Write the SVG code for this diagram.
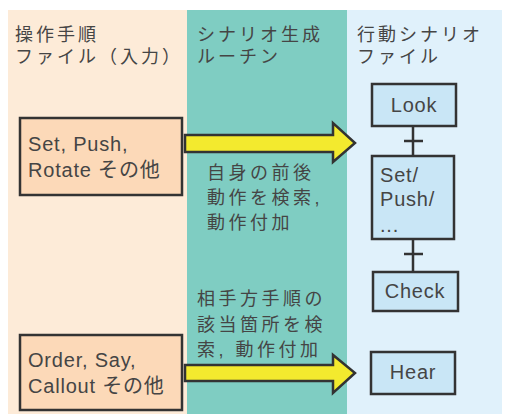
<svg xmlns="http://www.w3.org/2000/svg" width="508" height="414" viewBox="0 0 508 414">
<style>
text{font-family:"Liberation Sans","Noto Sans CJK JP",sans-serif;fill:#454545}
.h{font-size:18px;letter-spacing:3px}
.m{font-size:18px;letter-spacing:3.5px}
.b{font-size:20px;letter-spacing:0.8px}
.lbox{fill:#fcd9b8;stroke:#333;stroke-width:2.5}
.rbox{fill:#c9e6f6;stroke:#333;stroke-width:2.5}
.arrow{fill:#f3ea2e;stroke:#333;stroke-width:2.5;stroke-linejoin:miter}
.link{stroke:#333;stroke-width:2.5;fill:none}
</style>
<rect x="0" y="0" width="508" height="414" fill="#ffffff"/>
<g id="panels">
<rect x="8" y="10" width="179" height="404" fill="#fdebd8"/>
<rect x="187" y="10" width="160" height="404" fill="#7fcdc2"/>
<rect x="347" y="10" width="155" height="404" fill="#e0f1fb"/>
<text class="h" x="15" y="41">操作手順</text>
<text class="h" x="15" y="63" letter-spacing="1.5">ファイル（入力）</text>
<text class="h" x="197" y="41">シナリオ生成</text>
<text class="h" x="197" y="63">ルーチン</text>
<text class="h" x="357" y="41">行動シナリオ</text>
<text class="h" x="357" y="63">ファイル</text>
</g>
<g id="connectors">
<polygon class="arrow" points="185,135 333,135 333,123 355,143 333,162 333,152 185,152"/>
<polygon class="arrow" points="185,365 333,365 333,355 355,373 333,393 333,381 185,381"/>
<line class="link" x1="413" y1="126" x2="413" y2="156"/>
<line class="link" x1="404" y1="141" x2="423" y2="141"/>
<line class="link" x1="413" y1="239" x2="413" y2="272"/>
<line class="link" x1="404" y1="254" x2="423" y2="254"/>
</g>
<g id="note1">
<text class="m" x="207" y="179">自身の前後</text>
<text class="m" x="207" y="204">動作を検索,</text>
<text class="m" x="207" y="229">動作付加</text>
</g>
<g id="note2">
<text class="m" x="197" y="305">相手方手順の</text>
<text class="m" x="197" y="331">該当箇所を検</text>
<text class="m" x="197" y="356">索, 動作付加</text>
</g>
<g id="input1">
<rect class="lbox" x="20" y="118" width="162" height="77"/>
<text class="b" x="28" y="151">Set, Push,</text>
<text class="b" x="28" y="177">Rotate その他</text>
</g>
<g id="input2">
<rect class="lbox" x="20" y="335" width="162" height="75"/>
<text class="b" x="28" y="367">Order, Say,</text>
<text class="b" x="28" y="393">Callout その他</text>
</g>
<g id="look">
<rect class="rbox" x="372" y="84" width="84" height="42"/>
<text class="b" x="414" y="112" text-anchor="middle">Look</text>
</g>
<g id="setpush">
<rect class="rbox" x="372" y="156" width="82" height="83"/>
<text class="b" x="380" y="182">Set/</text>
<text class="b" x="380" y="206">Push/</text>
<text class="b" x="380" y="232">...</text>
</g>
<g id="check">
<rect class="rbox" x="373" y="272" width="85" height="39"/>
<text class="b" x="415" y="298" text-anchor="middle">Check</text>
</g>
<g id="hear">
<rect class="rbox" x="371" y="352" width="84" height="42"/>
<text class="b" x="413" y="379" text-anchor="middle">Hear</text>
</g>
</svg>
